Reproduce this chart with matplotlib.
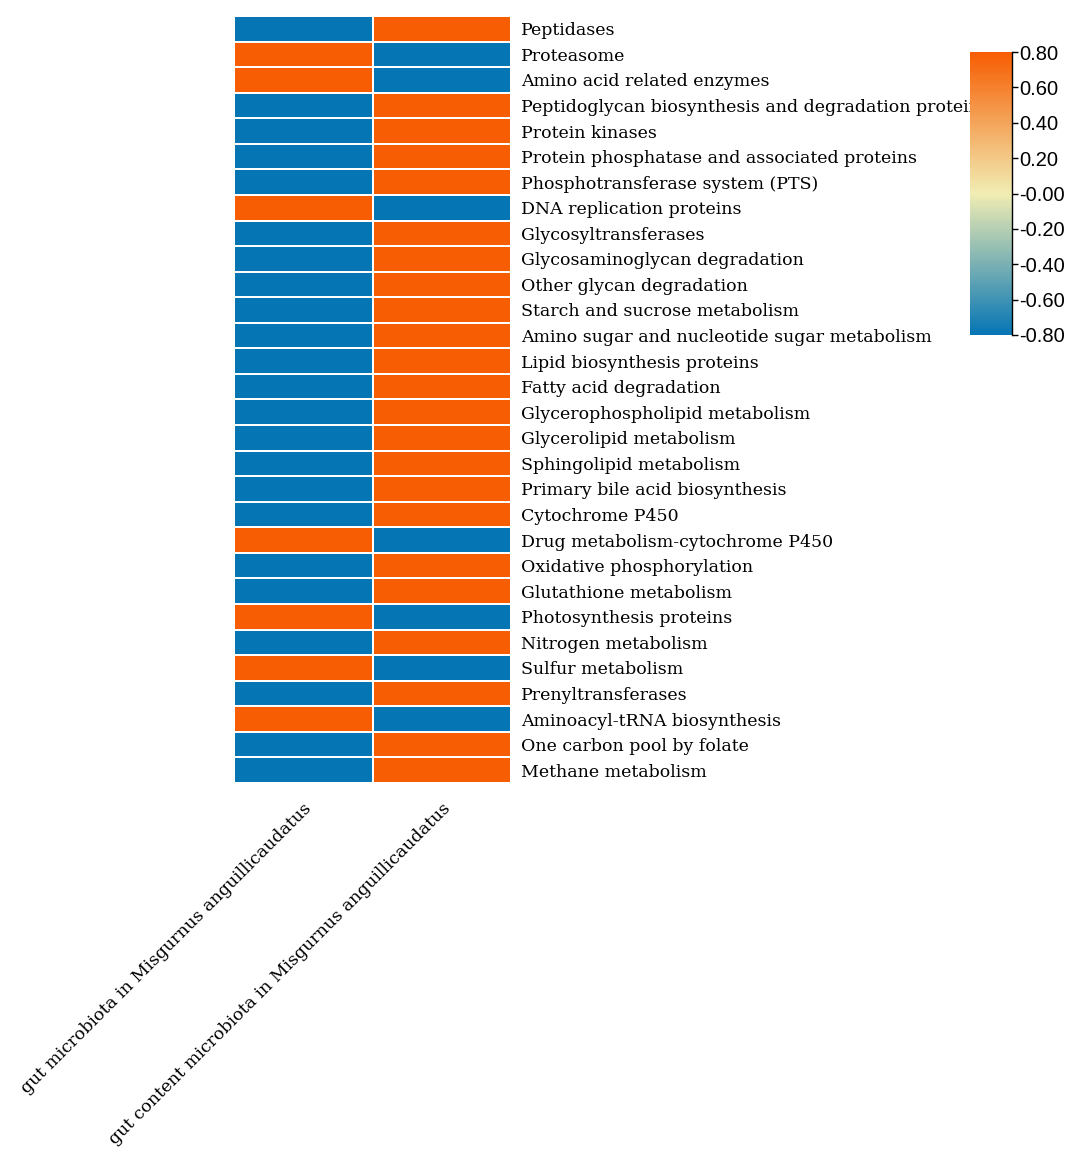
import numpy as np
import matplotlib
matplotlib.use("Agg")
import matplotlib.pyplot as plt
from matplotlib.colors import LinearSegmentedColormap

pathways = [
    "Peptidases", "Proteasome", "Amino acid related enzymes",
    "Peptidoglycan biosynthesis and degradation proteins", "Protein kinases",
    "Protein phosphatase and associated proteins", "Phosphotransferase system (PTS)",
    "DNA replication proteins", "Glycosyltransferases", "Glycosaminoglycan degradation",
    "Other glycan degradation", "Starch and sucrose metabolism",
    "Amino sugar and nucleotide sugar metabolism", "Lipid biosynthesis proteins",
    "Fatty acid degradation", "Glycerophospholipid metabolism", "Glycerolipid metabolism",
    "Sphingolipid metabolism", "Primary bile acid biosynthesis", "Cytochrome P450",
    "Drug metabolism-cytochrome P450", "Oxidative phosphorylation", "Glutathione metabolism",
    "Photosynthesis proteins", "Nitrogen metabolism", "Sulfur metabolism",
    "Prenyltransferases", "Aminoacyl-tRNA biosynthesis", "One carbon pool by folate",
    "Methane metabolism",
]
groups = ["gut microbiota in Misgurnus anguillicaudatus",
          "gut content microbiota in Misgurnus anguillicaudatus"]

# correlation of each pathway with the two groups
gut = [-0.8, 0.8, 0.8, -0.8, -0.8, -0.8, -0.8, 0.8, -0.8, -0.8,
       -0.8, -0.8, -0.8, -0.8, -0.8, -0.8, -0.8, -0.8, -0.8, -0.8,
       0.8, -0.8, -0.8, 0.8, -0.8, 0.8, -0.8, 0.8, -0.8, -0.8]
content = [0.8, -0.8, -0.8, 0.8, 0.8, 0.8, 0.8, -0.8, 0.8, 0.8,
           0.8, 0.8, 0.8, 0.8, 0.8, 0.8, 0.8, 0.8, 0.8, 0.8,
           -0.8, 0.8, 0.8, -0.8, 0.8, -0.8, 0.8, -0.8, 0.8, 0.8]

cbar_ticks = [0.8, 0.6, 0.4, 0.2, 0.0, -0.2, -0.4, -0.6, -0.8]
cbar_labels = ["0.80", "0.60", "0.40", "0.20", "-0.00", "-0.20", "-0.40", "-0.60", "-0.80"]

cmap = LinearSegmentedColormap.from_list(
    "bo", [(0.0, "#0575b4"), (0.5, "#f1edb3"), (1.0, "#f75d02")])

data = np.array([gut, content]).T

fig = plt.figure(figsize=(10.85, 11.64), dpi=100)
ax = fig.add_axes([0.2157, 0.3273, 0.2553, 0.659])
mesh = ax.pcolormesh(data, cmap=cmap, vmin=-0.8, vmax=0.8,
                     edgecolors="white", linewidth=1.2)
ax.set_xlim(0, 2)
ax.set_ylim(len(pathways), 0)
for s in ax.spines.values():
    s.set_visible(False)

serif = "DejaVu Serif"
ax.yaxis.tick_right()
ax.set_yticks(np.arange(len(pathways)) + 0.5)
ax.set_yticklabels(pathways, fontsize=12.5, family=serif)
ax.set_xticks(np.arange(2) + 0.5)
ax.set_xticklabels(groups, fontsize=12.5, family=serif, rotation=45,
                   ha="right", rotation_mode="anchor")
ax.tick_params(axis="both", length=0)
ax.tick_params(axis="y", pad=7)
ax.tick_params(axis="x", pad=12)

cax = fig.add_axes([0.894, 0.7122, 0.0387, 0.2431])
cb = fig.colorbar(mesh, cax=cax)
cb.outline.set_visible(False)
cax.plot([1, 1], [0, 1], color="black", lw=1, transform=cax.transAxes, clip_on=False)
cb.set_ticks(cbar_ticks)
cb.set_ticklabels(cbar_labels)
cax.tick_params(labelsize=14.5, length=4, width=1, pad=1)
for t in cax.get_yticklabels():
    t.set_family("Liberation Sans")

fig.savefig("out.png", dpi=100)
